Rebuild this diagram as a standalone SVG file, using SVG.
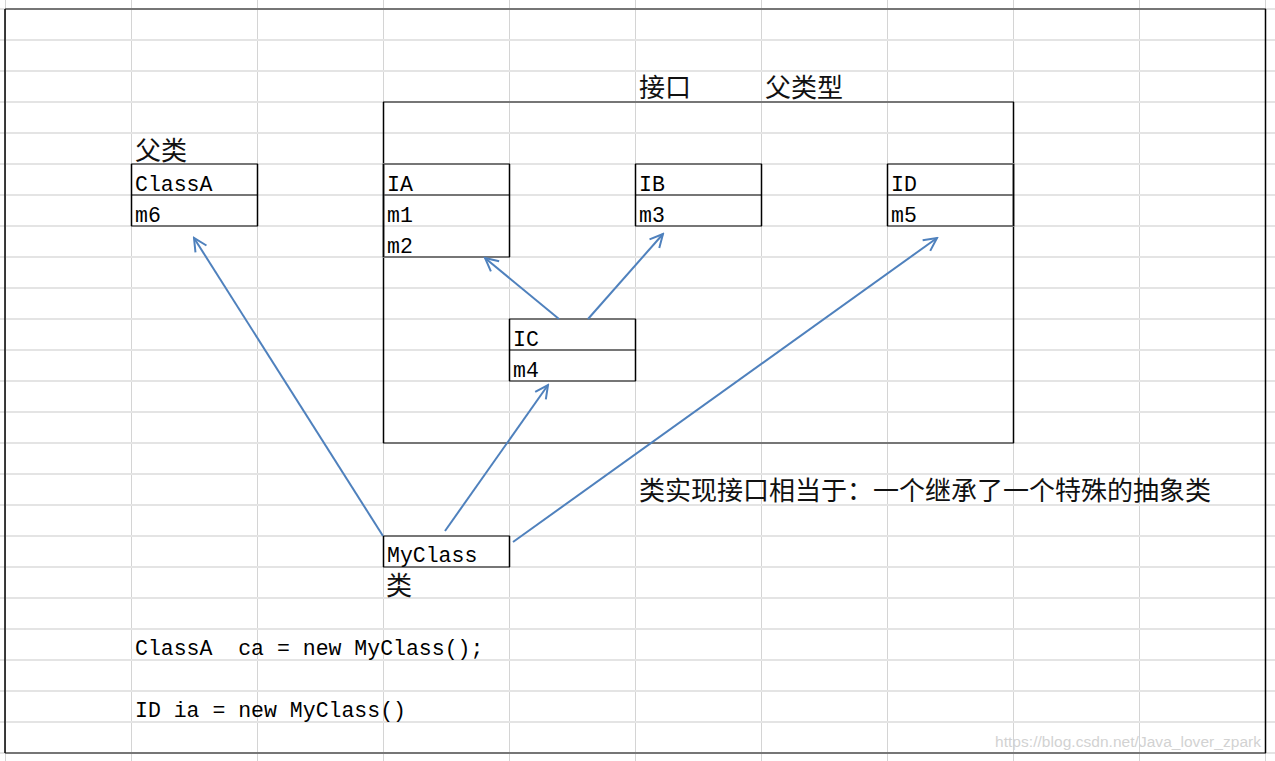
<svg xmlns="http://www.w3.org/2000/svg" width="1275" height="761" viewBox="0 0 1275 761">
<style>
.gv{stroke:#d4d4d4;stroke-width:1}
.gh{stroke:#e4e4e4;stroke-width:2}
.h{stroke:#767676;stroke-width:2;fill:none}
.v{stroke:#000;stroke-width:1.5;fill:none}
.lat{font-family:"Liberation Mono",monospace;font-size:21.5px;fill:#000;white-space:pre}
.cjk{font-family:"Noto Sans CJK SC",sans-serif;font-size:26px;fill:#111}
.wm{font-family:"Liberation Sans",sans-serif;font-size:15.5px;fill:#d2d2d2}
.con{stroke:#4f81bd;stroke-width:2;fill:none;marker-end:url(#arr)}
</style>
<defs>
<marker id="arr" markerUnits="userSpaceOnUse" markerWidth="18" markerHeight="18" viewBox="0 0 18 18" refX="16" refY="9" orient="auto">
<path d="M3,2.5 L16,9 L3,15.5" fill="none" stroke="#4f81bd" stroke-width="2"/>
</marker>
</defs>
<rect width="1275" height="761" fill="#fff"/>
<g id="grid">
<path class="gv" d="M5.5,0V761M131.5,0V761M257.5,0V761M383.5,0V761M509.5,0V761M635.5,0V761M761.5,0V761M887.5,0V761M1013.5,0V761M1139.5,0V761M1265.5,0V761"/>
<path class="gh" d="M0,9H1275M0,40H1275M0,71H1275M0,102H1275M0,133H1275M0,164H1275M0,195H1275M0,226H1275M0,257H1275M0,288H1275M0,319H1275M0,350H1275M0,381H1275M0,412H1275M0,443H1275M0,474H1275M0,505H1275M0,536H1275M0,567H1275M0,598H1275M0,629H1275M0,660H1275M0,691H1275M0,722H1275M0,753H1275"/>
</g>
<g id="outer">
<path class="h" d="M5,9H1266M5,753H1266"/>
<path class="v" d="M5,9V753M1265.5,9V753"/>
</g>
<g id="interfaceBox">
<path class="h" d="M383,102H1014M383,443H1014"/>
<path class="v" d="M383.5,102V443M1013.5,102V443"/>
<text class="cjk" x="639" y="97">接口</text>
<text class="cjk" x="765" y="97">父类型</text>
</g>
<g id="ClassA">
<text class="cjk" x="135" y="160">父类</text>
<path class="h" d="M131,164H258M131,195H258M131,226H258"/>
<path class="v" d="M131.5,164V226M257.5,164V226"/>
<text class="lat" x="135" y="191">ClassA</text>
<text class="lat" x="135" y="222">m6</text>
</g>
<g id="IA">
<path class="h" d="M383,164H510M383,195H510M383,257H510"/>
<path class="v" d="M383.5,164V257M509.5,164V257"/>
<text class="lat" x="387" y="191">IA</text>
<text class="lat" x="387" y="222">m1</text>
<text class="lat" x="387" y="253">m2</text>
</g>
<g id="IB">
<path class="h" d="M635,164H762M635,195H762M635,226H762"/>
<path class="v" d="M635.5,164V226M761.5,164V226"/>
<text class="lat" x="639" y="191">IB</text>
<text class="lat" x="639" y="222">m3</text>
</g>
<g id="ID">
<path class="h" d="M887,164H1014M887,195H1014M887,226H1014"/>
<path class="v" d="M887.5,164V226M1013.5,164V226"/>
<text class="lat" x="891" y="191">ID</text>
<text class="lat" x="891" y="222">m5</text>
</g>
<g id="IC">
<path class="h" d="M509,319H636M509,350H636M509,381H636"/>
<path class="v" d="M509.5,319V381M635.5,319V381"/>
<text class="lat" x="513" y="346">IC</text>
<text class="lat" x="513" y="377">m4</text>
</g>
<g id="MyClass">
<path class="h" d="M383,536H510M383,567H510"/>
<path class="v" d="M383.5,536V567M509.5,536V567"/>
<text class="lat" x="387" y="562">MyClass</text>
<text class="cjk" x="386" y="595">类</text>
</g>
<g id="note">
<text class="cjk" x="639" y="500">类实现接口相当于：一个继承了一个特殊的抽象类</text>
</g>
<g id="code">
<text class="lat" x="135" y="655">ClassA  ca = new MyClass();</text>
<text class="lat" x="135" y="717">ID ia = new MyClass()</text>
</g>
<g id="connectors">
<line class="con" x1="383" y1="536" x2="194" y2="238"/>
<line class="con" x1="445" y1="531" x2="548" y2="385"/>
<line class="con" x1="513" y1="542" x2="937" y2="238"/>
<line class="con" x1="559" y1="319" x2="485" y2="258"/>
<line class="con" x1="588" y1="319" x2="663" y2="234"/>
</g>
<text class="wm" x="995" y="747" textLength="266">https://blog.csdn.net/Java_lover_zpark</text>
</svg>
